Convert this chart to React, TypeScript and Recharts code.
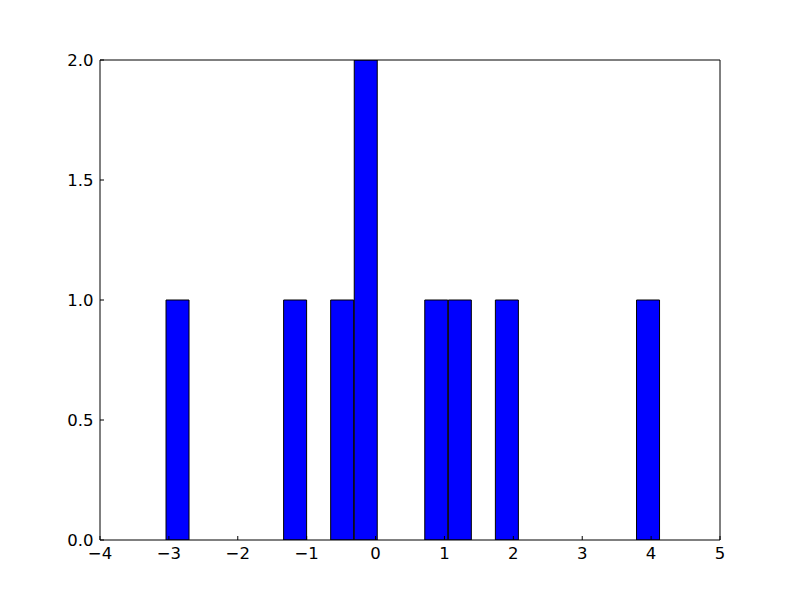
import React from 'react';
import { ComposedChart, Bar, Line, XAxis, YAxis } from 'recharts';

// Histogram bin centers (bin width ≈ 0.3415) and counts
const binCenters = [
  -2.871, -2.530, -2.188, -1.847, -1.505, -1.164, -0.822, -0.481, -0.139, 0.202,
  0.544, 0.885, 1.227, 1.568, 1.910, 2.251, 2.593, 2.934, 3.276, 3.617, 3.959,
];
const counts = [1, 0, 0, 0, 0, 1, 0, 1, 2, 0, 0, 1, 1, 0, 1, 0, 0, 0, 0, 0, 1];

const xTicks = [-4, -3, -2, -1, 0, 1, 2, 3, 4, 5];
const yTicks = [0, 0.5, 1, 1.5, 2];

const data = binCenters.map((c, i) => ({ x: c, count: counts[i] }));

const font = { fontFamily: 'DejaVu Sans', fontSize: 16.5, fill: '#000' };
const fmtX = (v: number) => String(v).replace('-', '\u2212');
const fmtY = (v: number) => v.toFixed(1);

export default function App() {
  return (
    <div style={{ position: 'absolute', left: 0, top: 0, width: 800, height: 600, background: '#fff' }}>
      <ComposedChart
        width={800}
        height={600}
        data={data}
        margin={{ top: 59, right: 79, bottom: 0, left: 0 }}
        barCategoryGap={0}
        barGap={0}
      >
        <XAxis
          xAxisId="bottom"
          dataKey="x"
          type="number"
          domain={[-4, 5]}
          ticks={xTicks}
          allowDataOverflow
          orientation="bottom"
          height={60}
          tickSize={-4}
          tickMargin={11}
          tickFormatter={fmtX}
          tick={font}
          axisLine={{ stroke: '#000', strokeWidth: 1 }}
          tickLine={{ stroke: '#000', strokeWidth: 1 }}
          interval={0}
        />
        <XAxis
          xAxisId="top"
          dataKey="x"
          type="number"
          domain={[-4, 5]}
          ticks={xTicks}
          allowDataOverflow
          orientation="top"
          height={1}
          tickSize={-4}
          tick={false}
          axisLine={{ stroke: '#000', strokeWidth: 1 }}
          tickLine={{ stroke: '#000', strokeWidth: 1 }}
          interval={0}
        />
        <YAxis
          yAxisId="left"
          type="number"
          domain={[0, 2]}
          ticks={yTicks}
          allowDataOverflow
          orientation="left"
          width={100}
          tickSize={-4}
          tickMargin={10.5}
          tickFormatter={fmtY}
          tick={font}
          axisLine={{ stroke: '#000', strokeWidth: 1 }}
          tickLine={{ stroke: '#000', strokeWidth: 1 }}
          interval={0}
        />
        <YAxis
          yAxisId="right"
          type="number"
          domain={[0, 2]}
          ticks={yTicks}
          allowDataOverflow
          orientation="right"
          width={1}
          tickSize={-4}
          tick={false}
          axisLine={{ stroke: '#000', strokeWidth: 1 }}
          tickLine={{ stroke: '#000', strokeWidth: 1 }}
          interval={0}
        />
        <Bar
          xAxisId="bottom"
          yAxisId="left"
          dataKey="count"
          fill="#0000ff"
          stroke="#000"
          strokeWidth={1}
          isAnimationActive={false}
        />
        <Line
          xAxisId="top"
          yAxisId="right"
          dataKey="count"
          stroke="none"
          dot={false}
          activeDot={false}
          legendType="none"
          isAnimationActive={false}
        />
      </ComposedChart>
    </div>
  );
}
